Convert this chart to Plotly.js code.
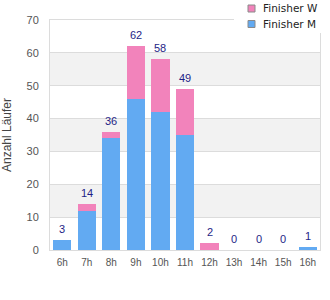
<!DOCTYPE html>
<html>
<head>
<meta charset="utf-8">
<script src="https://cdn.plot.ly/plotly-3.0.1.min.js"></script>
<style>html,body{margin:0;padding:0;background:#fff;}#chart{width:330px;height:300px;}</style>
</head>
<body>
<div id="chart"></div>
<script>
const categories = ["6h","7h","8h","9h","10h","11h","12h","13h","14h","15h","16h"];
const finisherM = [3, 12, 34, 46, 42, 35, 0, 0, 0, 0, 1];
const finisherW = [0, 2, 2, 16, 16, 14, 2, 0, 0, 0, 0];
const yTicks = [0, 10, 20, 30, 40, 50, 60, 70];
const legendNames = ["Finisher W", "Finisher M"];

const totals = categories.map((c, i) => finisherM[i] + finisherW[i]);
const pink = "#f283bb";
const blue = "#62aaf2";
const legendColors = [pink, blue];

// plot area in pixels (for legend placement only)
const M = {l: 50, r: 10, t: 20, b: 50};
const W = 330, H = 300;
const pw = W - M.l - M.r, ph = H - M.t - M.b;
const px = x => (x - M.l) / pw;
const py = y => 1 - (y - M.t) / ph;

const shapes = [];
// alternating background bands between tick values
for (let i = 1; i < yTicks.length - 1; i += 2) {
  shapes.push({type: "rect", xref: "paper", yref: "y", x0: 0, x1: 1,
    y0: yTicks[i], y1: yTicks[i + 1], fillcolor: "#f2f2f2", line: {width: 0}, layer: "below"});
}
// legend background box
shapes.push({type: "rect", xref: "paper", yref: "paper", x0: px(234), x1: px(331), y0: py(-1), y1: py(33),
  fillcolor: "#fff", line: {width: 0}, layer: "above"});
const annotations = [];
legendNames.forEach((n, i) => {
  const cy = 8.5 + i * 15.5;
  shapes.push({type: "rect", xref: "paper", yref: "paper", x0: px(248), x1: px(255), y0: py(cy + 3.5), y1: py(cy - 3.5),
    fillcolor: legendColors[i], line: {color: "#8a8a8a", width: 1}, layer: "above"});
  annotations.push({xref: "paper", yref: "paper", x: px(261), y: py(cy), xanchor: "left", yanchor: "middle",
    text: n, showarrow: false, font: {family: "DejaVu Sans, sans-serif", size: 10.5, color: "#222"}});
});
// totals above bars
categories.forEach((c, i) => {
  annotations.push({x: c, y: totals[i], xref: "x", yref: "y", yanchor: "bottom", yshift: 3,
    text: String(totals[i]), showarrow: false,
    font: {family: "Liberation Sans, Arial, sans-serif", size: 11, color: "#1e1e86"}});
});

const data = [
  {type: "bar", name: "Finisher M", x: categories, y: finisherM, marker: {color: blue, line: {width: 0}}, hoverinfo: "skip"},
  {type: "bar", name: "Finisher W", x: categories, y: finisherW, marker: {color: pink, line: {width: 0}}, hoverinfo: "skip"}
];

const layout = {
  width: W, height: H,
  margin: M,
  paper_bgcolor: "#fff", plot_bgcolor: "#fff",
  barmode: "stack", bargap: 0.26,
  showlegend: false,
  font: {family: "Liberation Sans, Arial, sans-serif", size: 11, color: "#555"},
  shapes: shapes,
  annotations: annotations,
  xaxis: {
    type: "category", categoryorder: "array", categoryarray: categories,
    showgrid: false, showline: true, linecolor: "#dcdcdc", linewidth: 1, mirror: true,
    ticks: "outside", ticklen: 3, tickcolor: "rgba(0,0,0,0)",
    tickfont: {size: 10, color: "#555"}, fixedrange: true
  },
  yaxis: {
    range: [0, 70], tickvals: yTicks, ticktext: yTicks.map(String),
    showgrid: true, gridcolor: "#dcdcdc", gridwidth: 1, zeroline: false,
    showline: true, linecolor: "#dcdcdc", linewidth: 1, mirror: true,
    ticks: "outside", ticklen: 8, tickcolor: "rgba(0,0,0,0)",
    tickfont: {size: 11, color: "#555"},
    title: {text: "Anzahl Läufer", font: {size: 12, color: "#444"}, standoff: 12},
    fixedrange: true
  }
};

Plotly.newPlot("chart", data, layout, {staticPlot: true, displayModeBar: false});
</script>
</body>
</html>
